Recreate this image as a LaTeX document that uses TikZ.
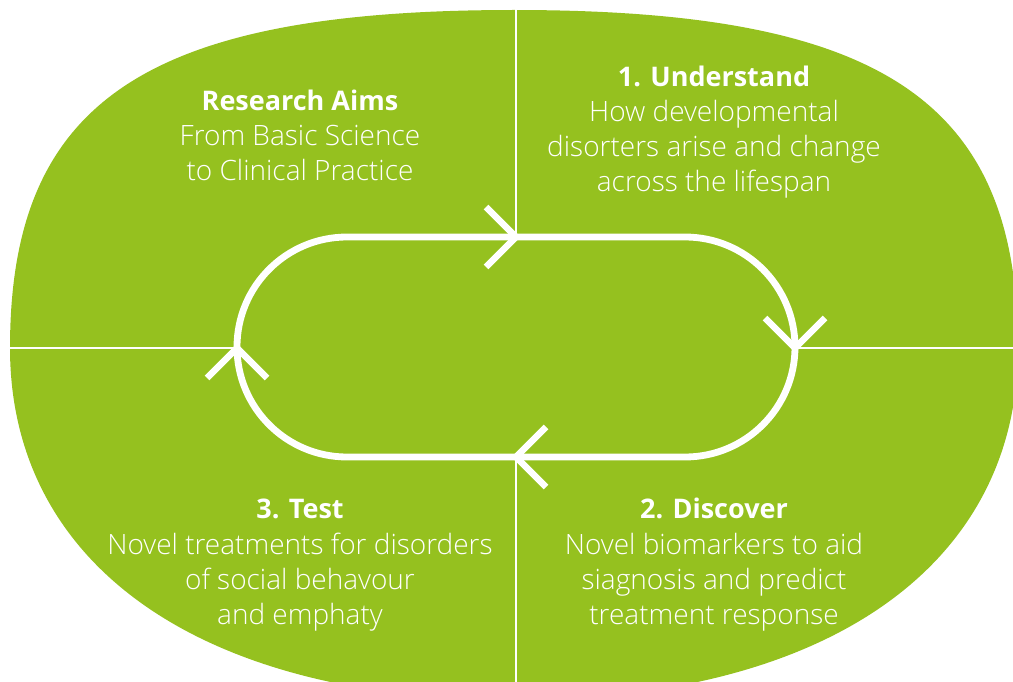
\documentclass[tikz,border=0pt]{standalone}
\usepackage{fontspec}
\setmainfont{Open Sans}[UprightFont={* Light},BoldFont={* Bold}]
\definecolor{leaf}{RGB}{149,193,31}
\begin{document}
\begin{tikzpicture}[x=1pt,y=-1pt,
  divider/.style={draw=white,line width=2.5pt},
  loopline/.style={draw=white,line width=6.8pt},
  chev/.style={draw=white,line width=6.5pt,line join=miter},
  head/.style={text=white,font=\bfseries\fontsize{27}{30}\selectfont,anchor=base,inner sep=0pt},
  body/.style={text=white,font=\fontsize{28}{30}\selectfont,anchor=base,inner sep=0pt}]
\useasboundingbox (0,0) rectangle (1013,682);
\clip (0,0) rectangle (1013,682);
% green rounded shape
\fill[leaf] (10,348) .. controls (10,101) and (146,10) .. (514,10)
  .. controls (882,10) and (1018,101) .. (1018,348)
  .. controls (1018,566) and (826,700) .. (514,700)
  .. controls (202,700) and (10,566) .. (10,348) -- cycle;
% key points on the loop
\coordinate (top) at (516,237);
\coordinate (right) at (795,348);
\coordinate (bot) at (516,457);
\coordinate (left) at (237,348);
\coordinate (ltop) at (516,0);
\coordinate (lbot) at (516,682);
\coordinate (lleft) at (0,348);
\coordinate (lright) at (1013,348);
% dividers
\draw[divider] (ltop) -- (top);
\draw[divider] (bot) -- (lbot);
\draw[divider] (lleft) -- (left);
\draw[divider] (right) -- (lright);
% loop
\draw[loopline,rounded corners=110pt] (237,237) rectangle (795,457);
% chevrons
\draw[chev] ([shift={(-30,-30)}]top) -- (top) -- ([shift={(-30,30)}]top);
\draw[chev] ([shift={(-30,-30)}]right) -- (right) -- ([shift={(30,-30)}]right);
\draw[chev] ([shift={(30,-30)}]bot) -- (bot) -- ([shift={(30,30)}]bot);
\draw[chev] ([shift={(-30,30)}]left) -- (left) -- ([shift={(30,30)}]left);
% texts
\node[head] (ra1) at (300,111) {Research Aims};
\node[body] (ra2) at (300,146) {From Basic Science};
\node[body] (ra3) at (300,181) {to Clinical Practice};
\node[head] (u1) at (714,87) {1. Understand};
\node[body] (u2) at (714,122) {How developmental};
\node[body] (u3) at (714,157) {disorters arise and change};
\node[body] (u4) at (714,192) {across the lifespan};
\node[head] (d1) at (714,518) {2. Discover};
\node[body] (d2) at (714,554) {Novel biomarkers to aid};
\node[body] (d3) at (714,589) {siagnosis and predict};
\node[body] (d4) at (714,624) {treatment response};
\node[head] (t1) at (300,518) {3. Test};
\node[body] (t2) at (300,554) {Novel treatments for disorders};
\node[body] (t3) at (300,589) {of social behavour};
\node[body] (t4) at (300,624) {and emphaty};
\end{tikzpicture}
\end{document}
